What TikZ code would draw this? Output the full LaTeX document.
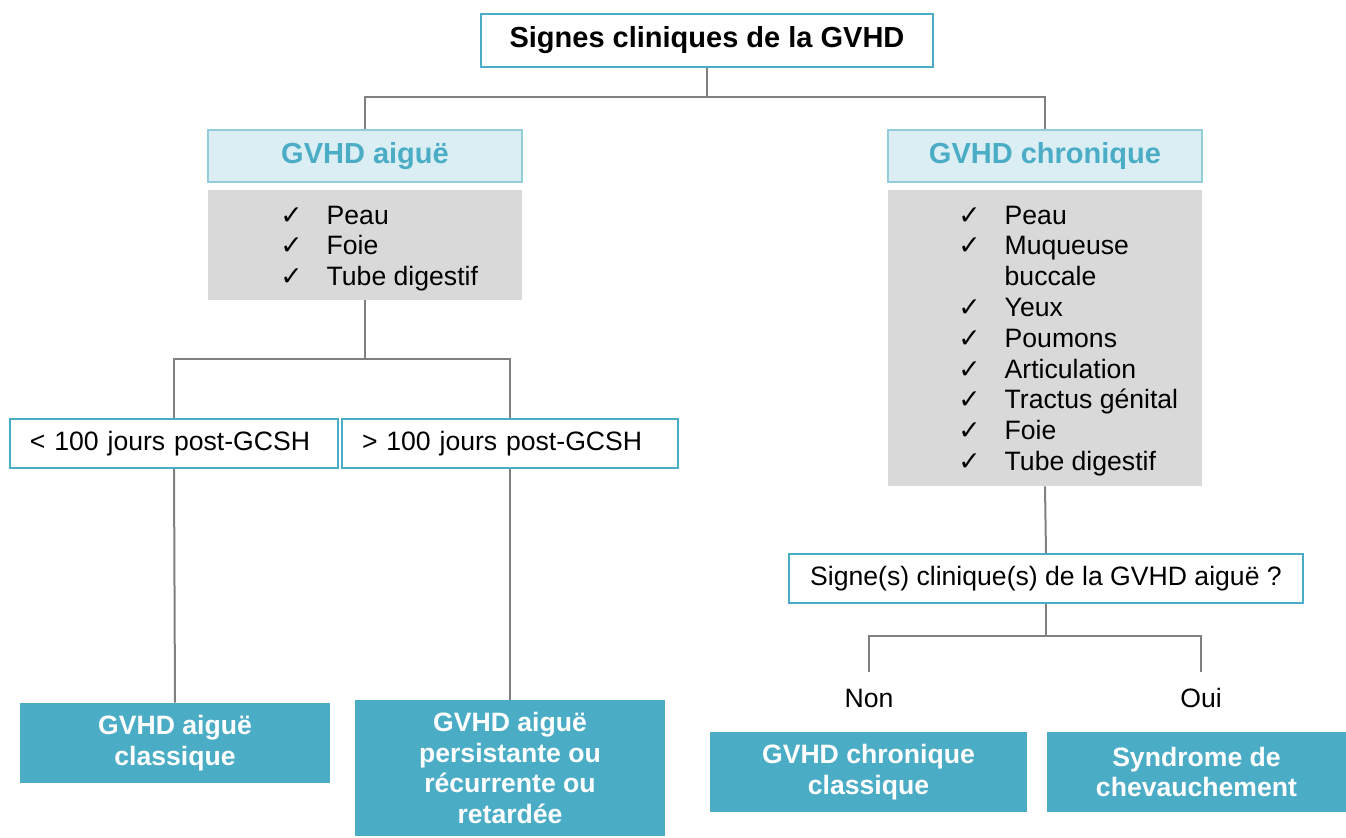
\documentclass[tikz,border=0pt]{standalone}
\usepackage{fontspec}
\setmainfont{Liberation Sans}
\newfontfamily\symb{DejaVu Sans}
\usetikzlibrary{positioning}

\definecolor{teal}{HTML}{4BACC6}
\definecolor{tealclair}{HTML}{DAEEF3}
\definecolor{tealbord}{HTML}{92CDDC}
\definecolor{grisliste}{HTML}{D9D9D9}
\definecolor{grislien}{HTML}{808080}

\newcommand{\ok}{{\symb ✓}}

\tikzset{
  cadre/.style={draw=teal, line width=1pt, fill=white, inner sep=0pt,
    font=\fontsize{13.3}{15.4}\selectfont},
  delai/.style={cadre, inner xsep=10pt, align=left, minimum height=24.5pt},
  titre/.style={cadre, font=\fontsize{14.5}{17}\selectfont\bfseries},
  entete/.style={draw=tealbord, line width=1pt, fill=tealclair, text=teal,
    minimum width=157pt, minimum height=26pt,
    font=\fontsize{14.5}{17}\selectfont\bfseries},
  liste/.style={fill=grisliste, minimum width=157pt, inner sep=0pt},
  items/.style={inner sep=0pt, anchor=base west,
    font=\fontsize{13.3}{15.4}\selectfont},
  resultat/.style={fill=teal, text=white, align=center, inner sep=0pt,
    font=\fontsize{13.3}{15.4}\selectfont\bfseries},
  lien/.style={draw=grislien, line width=1pt}
}

\begin{document}
\begin{tikzpicture}[x=0.5pt, y=-0.5pt]
    \useasboundingbox (0,0) rectangle (1346,837);

    % Titre
    \node[titre, minimum width=226pt, minimum height=26.5pt] (titre) at (707,40.5) {Signes cliniques de la GVHD};

    % GVHD aigue
    \node[entete] (aigue) at (365,156) {GVHD aiguë};
    \node[liste, minimum height=55pt] (aigueListe) at (365,245) {};
    \node[items] (aigueItems) at (280,224) {\begin{tabular}[t]{@{}l@{\hspace{12pt}}l@{}}
        \ok & Peau\\
        \ok & Foie\\
        \ok & Tube digestif
      \end{tabular}};

    % GVHD chronique
    \node[entete] (chron) at (1045,156) {GVHD chronique};
    \node[liste, minimum height=148pt] (chronListe) at (1045,338) {};
    \node[items] (chronItems) at (958,224) {\begin{tabular}[t]{@{}l@{\hspace{12pt}}l@{}}
        \ok & Peau\\
        \ok & Muqueuse\\
            & buccale\\
        \ok & Yeux\\
        \ok & Poumons\\
        \ok & Articulation\\
        \ok & Tractus génital\\
        \ok & Foie\\
        \ok & Tube digestif
      \end{tabular}};

    % Delais
    \node[delai, text width=144pt] (avant) at (174,443.5) {< 100 jours post-GCSH};
    \node[delai, text width=148pt] (apres) at (510,443.5) {> 100 jours post-GCSH};

    % Resultats aigue
    \node[resultat, minimum width=155pt, minimum height=40pt] (classique) at (175,743) {GVHD aiguë\\classique};
    \node[resultat, minimum width=155pt, minimum height=68pt] (persist) at (510,768) {GVHD aiguë\\persistante ou\\récurrente ou\\retardée};

    % Question
    \node[cadre, minimum width=257pt, minimum height=24.5pt] (question) at (1046,578.5) {Signe(s) clinique(s) de la GVHD aiguë ?};
    \node[inner sep=0pt, font=\fontsize{13.3}{15.4}\selectfont] (non) at (869,698) {Non};
    \node[inner sep=0pt, font=\fontsize{13.3}{15.4}\selectfont] (oui) at (1201,698) {Oui};

    % Resultats chronique
    \node[resultat, minimum width=158.5pt, minimum height=40pt] (chronClass) at (868.5,772) {GVHD chronique\\classique};
    \node[resultat, minimum width=149.5pt, minimum height=40pt] (overlap) at (1196.5,772) {Syndrome de\\chevauchement};

    % Liens
    \coordinate (b1) at (707,97);
    \coordinate (b2) at (365,359);
    \coordinate (b3) at (1046,636);
    \draw[lien] (titre.south) -- (b1) -| (aigue.north);
    \draw[lien] (b1) -| (chron.north);
    \draw[lien] (aigueListe.south) -- (b2) -| (avant.north);
    \draw[lien] (b2) -| (apres.north);
    \draw[lien] (avant.south) -- (classique.north);
    \draw[lien] (apres.south) -- (persist.north);
    \draw[lien] (chronListe.south) -- (question.north);
    \draw[lien] (question.south) -- (b3) -| ([yshift=8pt]non.north);
    \draw[lien] (b3) -| ([yshift=8pt]oui.north);
\end{tikzpicture}
\end{document}
